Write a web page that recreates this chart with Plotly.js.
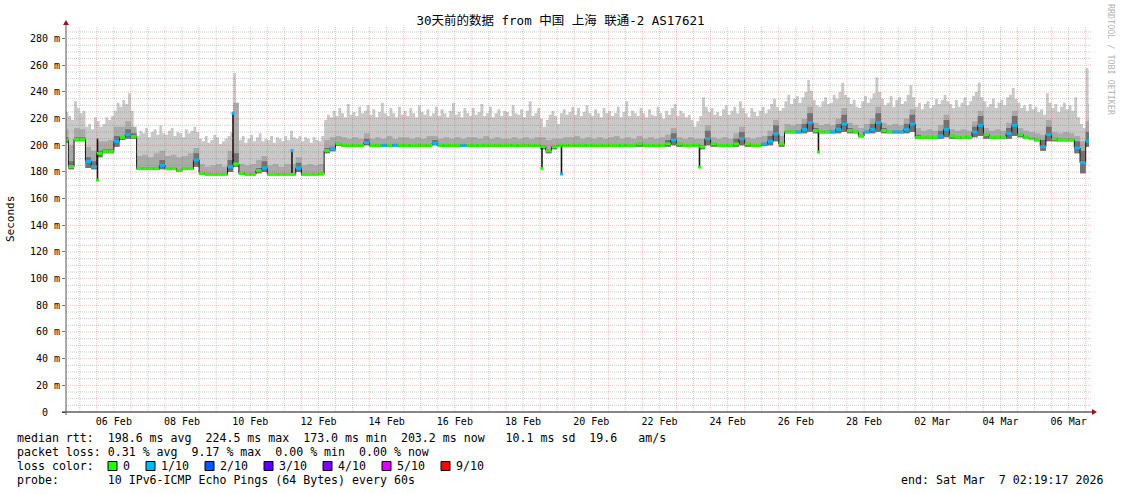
<!DOCTYPE html>
<html><head><meta charset="utf-8">
<script src="https://cdn.plot.ly/plotly-3.0.1.min.js"></script>
<style>html,body{margin:0;padding:0;background:#fff}</style>
</head><body><div id="chart" style="width:1121px;height:494px"></div>
<script>
// ---- sampling grid: median/inner smoke every 4 h, outer smoke every 2 h, from 2026-02-05 00:00 ----
const sampleStartUTC = Date.UTC(2026, 1, 5, 0, 0, 0);
const stepHours = 4;
const hiStepHours = 2;
const rangeStart = '2026-02-05 02:19:17';
const rangeEnd = '2026-03-07 02:19:17';

// median rtt (ms), 6 samples per day
const med = [
 204,184,204.5,204.5,188,184,  194,195.5,195.5,203,206,208,
 206.5,182.5,182.5,182.5,182.5,185,  182.5,182.5,181,182.5,182.5,189,
 179,178.2,178.2,178.2,178.2,184,  186,179,178.2,178.2,181,183,
 178.2,178.2,178.2,178.2,178.2,183,  178.2,178.2,178.2,178.7,196,197.5,
 201,200,200,200,200,202,  200,200,200,200,200,200,
 200,200,200,200,200,201.5,  200,200,200,200,200,200,
 200,200,200,200,200,200,  200,200,200,200,200,200,
 199,196,199,200,200,200,  200,200,200,200,200,200,
 200,200,200,200,200,201,  200,200,200,200,201,204,
 201,200,200,200,199,205,  201,200,200,200,201,205,
 201,200,200,201,203,208.5,  201,210,210,210,212,217,
 211,210,210,210,212,216,  211,210,207,210,212,217,
 211,210,210,210,212,216,  206,206,206,206,207,212,
 207,206,206,206,210,215,  208,206,206,206,209,215,
 208,206,205,204,199,208,  205,204,204,204,198,187,
 203,203];
// packet loss per sample, in tenths
const loss = [
 0,0,0,0,1,1, 0,0,0,1,0,1, 0,0,0,0,0,1, 0,0,0,0,0,1, 0,0,0,0,0,1,
 0,0,0,0,0,1, 0,0,0,0,0,1, 0,0,0,0,0,1, 0,0,0,0,0,1, 0,0,1,0,1,0,
 0,0,0,0,0,1, 0,0,0,0,1,0, 0,0,0,0,0,0, 0,0,0,0,0,0, 0,0,0,0,0,0,
 0,0,0,0,0,0, 0,0,0,0,0,0, 0,0,0,0,0,1, 0,0,0,0,0,1, 0,0,0,0,0,1,
 0,0,0,1,1,1, 0,0,0,1,1,1, 0,0,0,1,1,1, 0,0,0,1,1,1, 0,0,1,1,1,1,
 0,0,0,0,1,1, 0,0,0,0,1,1, 0,0,0,0,1,1, 0,0,0,0,1,1, 0,0,0,0,1,1,
 1,0];
// lowest ping
const lo = [
 202,182,203,203,183,182,  191,194,194,199,204,205,
 205,181.5,181.5,181.5,181.5,182,  181.5,181.5,180,181.5,181.5,184,
 178,177.5,177.5,177.5,177.5,180,  184,178,177.5,177.5,179,180,
 177.5,177.5,177.5,177.5,177.5,180,  177.5,177.5,177.5,177.5,194,195.5,
 199.5,199,199,199,199,200,  199,199,199,199,199,199,
 199,199,199,199,199,200,  199,199,199,199,199,199,
 199,199,199,199,199,199,  199,199,199,199,199,199,
 197,194,197,199,199,199,  199,199,199,199,199,199,
 199,199,199,199,199,199,  199,199,199,199,199,200,
 199,199,199,199,197,200,  199,199,199,199,199,200,
 199,199,199,199.5,200,203,  199,209,209,209,209,210,
 209,209,209,209,209,210,  209,209,206,209,209,210,
 209,209,209,209,209,210,  205,205,205,205,205,206,
 205,205,205,205,206,207,  205,205,205,205,205,207,
 206,205,204,203,196,203,  203,203,203,203,194,179,
 199,202];
// top of the dark (inner) smoke
const dk = [
 206,188,206,206,191,188,  196,197,197,207,207,212,
 209,183.5,183.5,183.5,183.5,189,  183.5,183.5,182,183.5,183.5,194,
 180,179,179,179,179,189,  194,180,179,179,183,188,
 179,179,179,179,179,187,  179,179,179,179.5,198,199,
 202,201,201,201,201,205,  201,201,201,201,201,201,
 201,201,201,201,201,204,  201,201,201,201,201,201,
 201,201,201,201,201,201,  201,201,201,201,201,201,
 200,197,200,201,201,201,  201,201,201,201,201,201,
 201,201,201,201,201,202,  201,201,201,201,204,209,
 202,201,201,201,200,211,  202,201,201,201,205,210,
 202,201,201,202,207,215,  202,211,211,211,216,224,
 213,211,211,211,216,223,  213,211,208,211,216,224,
 213,211,211,211,216,223,  208,207,207,207,211,219,
 208,207,207,207,214,222,  209,207,207,207,213,222,
 209,207,206,205,204,214,  206,205,205,205,203,196,
 210,204];
// top of the medium smoke
const mid = [
 212,200,213,212,199,196,  203,203,204,214,214,218,
 214,192,193,191,194,196,  192,193,191,192,194,198,
 186,184,185,186,184,196,  232,186,185,186,189,192,
 185,186,184,186,186,191,  185,186,185,186,204,206,
 207,206,205,206,205,209,  205,206,205,207,205,206,
 206,205,206,205,207,207,  205,206,205,206,205,206,
 206,205,207,205,206,205,  205,206,205,206,205,206,
 206,204,205,205,206,206,  207,205,206,205,206,205,
 206,207,205,206,205,207,  205,206,205,206,208,213,
 206,205,206,205,205,215,  206,205,206,205,209,214,
 206,205,206,207,211,219,  207,216,215,216,220,229,
 217,215,216,215,220,228,  217,215,213,216,220,229,
 217,215,216,215,220,227,  213,211,212,211,215,223,
 212,211,212,211,218,226,  213,211,212,211,217,226,
 213,211,210,209,208,219,  210,209,210,209,207,203,
 218,210];
// highest ping (outer smoke), 12 samples per day
const hi = [
 227,225,222,219,233,228,224,226,214,216,212,221,
 218,214,216,221,219,222,226,232,229,234,231,239,
 226,210,207,211,209,213,206,210,212,208,215,209,
 208,211,213,207,210,209,206,212,209,211,214,210,
 205,203,207,202,204,208,206,201,203,205,207,210,
 254,212,204,207,202,205,208,203,206,209,203,205,
 204,207,202,206,205,203,207,204,211,206,205,207,
 203,206,205,202,206,204,203,207,219,223,221,226,
 222,228,224,221,231,223,225,222,229,224,226,230,
 223,227,221,225,232,224,222,228,224,221,229,223,
 226,222,228,224,221,230,225,223,227,222,224,229,
 222,227,224,221,226,232,223,225,221,228,224,222,
 228,223,225,231,222,224,229,221,224,227,222,226,
 225,222,230,224,223,227,221,226,233,222,224,228,
 220,214,219,223,226,222,216,224,227,223,225,229,
 223,228,222,225,230,224,222,227,224,221,228,224,
 226,222,224,229,221,225,233,222,226,224,222,228,
 224,221,227,223,222,229,224,220,226,223,228,231,
 222,226,224,221,223,219,214,218,222,236,229,225,
 228,223,225,222,227,230,223,226,229,224,233,228,
 224,221,228,225,222,226,229,224,227,231,235,229,
 226,228,233,238,231,235,237,232,236,240,249,241,
 234,230,229,233,236,231,232,238,235,240,247,238,
 236,231,234,229,228,233,237,232,235,239,251,240,
 235,230,232,237,229,234,236,231,233,238,245,236,
 229,232,227,231,233,228,230,235,231,234,238,233,
 231,228,234,229,232,236,230,233,237,240,247,236,
 233,229,231,235,228,232,234,230,236,238,243,235,
 232,228,230,226,231,227,229,225,227,223,239,232,
 228,231,225,229,232,227,230,226,236,221,216,213,
 258,231,230];

// short spikes of the median (narrower than one sample)
const spikeTime = ['2026-02-06 00:29','2026-02-09 23:51','2026-02-11 17:23','2026-02-19 01:20','2026-02-19 15:03','2026-02-23 16:11','2026-02-27 03:55'];
const spikeFrom = [205, 186, 178.2, 200, 200, 200, 210];
const spikeTo   = [174, 224, 196, 182.5, 178.5, 183.7, 195];
const spikeLoss = [0, 1, 1, 0, 1, 0, 0];

// loss colour legend
const lossLegendValues = [0, 1, 2, 3, 4, 5, 9];
const lossLegendLabels = ['0', '1/10', '2/10', '3/10', '4/10', '5/10', '9/10'];
const lossLegendColors = ['#26ff00', '#00b8ff', '#0059ff', '#5e00ff', '#7e00ff', '#dd00ff', '#ff0000'];

const yTickVals = [0,20,40,60,80,100,120,140,160,180,200,220,240,260,280];
const yTickText = ['0\u00a0\u00a0','20 m','40 m','60 m','80 m','100 m','120 m','140 m','160 m','180 m','200 m','220 m','240 m','260 m','280 m'];

const titleText = '30天前的数据 from 中国 上海 联通-2 AS17621';
const statLines = [
  'median rtt:  198.6 ms avg  224.5 ms max  173.0 ms min  203.2 ms now   10.1 ms sd  19.6   am/s',
  'packet loss: 0.31 % avg  9.17 % max  0.00 % min  0.00 % now',
  'loss color:',
  'probe:       10 IPv6-ICMP Echo Pings (64 Bytes) every 60s'
];
const endText = 'end: Sat Mar  7 02:19:17 2026';
const yTitle = 'Seconds';
const watermark = 'RRDTOOL / TOBI OETIKER';

// ---------------------------------------------------------------
const fmt = ms => new Date(ms).toISOString().slice(0, 19).replace('T', ' ');
const times = med.map((_, i) => fmt(sampleStartUTC + i * stepHours * 3600e3));
const hiTimes = hi.map((_, i) => fmt(sampleStartUTC + i * hiStepHours * 3600e3));
const colorOf = L => lossLegendColors[lossLegendValues.indexOf(L)];
const nb = s => s.replace(/ /g, '\u00a0');

const W = 1121, H = 494, L0 = 66, R0 = 1089, T0 = 26, B0 = 412;
const px = x => (x - L0) / (R0 - L0);
const py = y => (B0 - y) / (B0 - T0);

const stepLine = {shape: 'hv', width: 0};
const traces = [];
function band(tx, top, color) {
  traces.push({x: times, y: lo, mode: 'lines', line: stepLine, hoverinfo: 'skip', showlegend: false});
  traces.push({x: tx, y: top, mode: 'lines', line: stepLine, fill: 'tonexty', fillcolor: color, hoverinfo: 'skip', showlegend: false});
}
band(hiTimes, hi, '#c9c9c9');
band(times, mid, '#aaaaaa');
band(times, dk, '#727272');

// dark median line (shows at vertical transitions)
traces.push({x: times, y: med, mode: 'lines', line: {shape: 'hv', width: 1, color: '#151515'}, showlegend: false});
// spikes
const sx = [], sy = [];
spikeTime.forEach((t, k) => { sx.push(t, t, null); sy.push(spikeFrom[k], spikeTo[k], null); });
traces.push({x: sx, y: sy, mode: 'lines', line: {width: 1.6, color: '#151515'}, showlegend: false});

// coloured median segments by loss
const segs = {};
for (let i = 0; i < med.length - 1; i++) {
  const Lv = loss[i];
  if (!segs[Lv]) segs[Lv] = {x: [], y: []};
  segs[Lv].x.push(times[i], times[i + 1], null);
  segs[Lv].y.push(med[i], med[i], null);
}
Object.keys(segs).forEach(k => {
  traces.push({x: segs[k].x, y: segs[k].y, mode: 'lines', line: {width: 3, color: colorOf(+k)}, showlegend: false});
});
// spike tips
traces.push({x: spikeTime, y: spikeTo, mode: 'markers',
  marker: {symbol: 'square', size: 3, color: spikeLoss.map(colorOf), line: {width: 0}}, showlegend: false});

// ---- grid drawn above the smoke (like rrdtool) ----
const shapes = [];
const dayMs = 86400e3;
for (let t = Date.UTC(2026, 1, 5, 12); t <= Date.UTC(2026, 2, 7, 0); t += dayMs / 2) {
  const major = new Date(t).getUTCHours() === 0;
  shapes.push({type: 'line', layer: 'above', xref: 'x', yref: 'paper', x0: fmt(t), x1: fmt(t), y0: 0, y1: 1,
    line: {width: 1, dash: '1px,1px', color: major ? 'rgba(255,0,0,0.27)' : 'rgba(128,128,128,0.42)'}});
}
for (let v = 5; v <= 285; v += 5) {
  const major = v % 20 === 0;
  shapes.push({type: 'line', layer: 'above', xref: 'paper', yref: 'y', x0: 0, x1: px(1092), y0: v, y1: v,
    line: {width: 1, dash: '1px,1px', color: major ? 'rgba(255,0,0,0.27)' : 'rgba(128,128,128,0.42)'}});
}
// axis lines and arrows
shapes.push({type: 'line', xref: 'paper', yref: 'paper', layer: 'above', x0: px(62), x1: px(1093), y0: 0, y1: 0, line: {width: 1, color: '#111'}});
shapes.push({type: 'path', xref: 'paper', yref: 'paper', layer: 'above',
  path: `M ${px(1092)} ${py(409)} L ${px(1097)} ${py(412)} L ${px(1092)} ${py(415)} Z`, fillcolor: '#8b1a1a', line: {width: 0}});
shapes.push({type: 'line', xref: 'paper', yref: 'paper', layer: 'above', x0: 0, x1: 0, y0: py(415), y1: py(23), line: {width: 1, color: '#555'}});
shapes.push({type: 'path', xref: 'paper', yref: 'paper', layer: 'above',
  path: `M ${px(63)} ${py(25)} L ${px(66)} ${py(20)} L ${px(69)} ${py(25)} Z`, fillcolor: '#8b1a1a', line: {width: 0}});

// loss colour boxes: each legend entry is as wide as its label plus the box
const boxX = [];
lossLegendLabels.reduce((x, s) => { boxX.push(x); return x + 7 * s.length + 31; }, 108);
lossLegendColors.forEach((c, k) => {
  shapes.push({type: 'rect', xref: 'paper', yref: 'paper', x0: px(boxX[k]), x1: px(boxX[k] + 9), y0: py(461.5), y1: py(470.5),
    fillcolor: c, line: {width: 1, color: '#000'}});
});

const mono = 'DejaVu Sans Mono, monospace';
const annotations = [];
const rowY = [438, 452, 466, 480];
statLines.forEach((s, k) => annotations.push({xref: 'paper', yref: 'paper', x: px(16), y: py(rowY[k]),
  xanchor: 'left', yanchor: 'middle', showarrow: false, borderpad: 0, text: nb(s), font: {family: mono, size: 11.6, color: '#000'}}));
lossLegendLabels.forEach((s, k) => annotations.push({xref: 'paper', yref: 'paper', x: px(boxX[k] + 14), y: py(466),
  xanchor: 'left', yanchor: 'middle', showarrow: false, borderpad: 0, text: nb(s), font: {family: mono, size: 11.6, color: '#000'}}));
annotations.push({xref: 'paper', yref: 'paper', x: px(1104), y: py(480), xanchor: 'right', yanchor: 'middle',
  showarrow: false, borderpad: 0, text: nb(endText), font: {family: mono, size: 11.6, color: '#000'}});
annotations.push({xref: 'paper', yref: 'paper', x: px(10), y: py(219), xanchor: 'center', yanchor: 'middle', textangle: -90,
  showarrow: false, borderpad: 0, text: yTitle, font: {family: mono, size: 11, color: '#000'}});
annotations.push({xref: 'paper', yref: 'paper', x: px(1111), y: py(60), xanchor: 'center', yanchor: 'middle', textangle: 90,
  showarrow: false, borderpad: 0, text: nb(watermark), font: {family: mono, size: 8.4, color: '#b4b4b4'}});

const layout = {
  width: W, height: H, autosize: false,
  margin: {l: L0, r: W - R0, t: T0, b: H - B0, pad: 0},
  paper_bgcolor: '#fff', plot_bgcolor: '#fff',
  showlegend: false,
  title: {text: titleText, x: 0.5, xref: 'container', xanchor: 'center', y: 1 - 21 / H, yref: 'container', yanchor: 'middle',
    font: {family: 'DejaVu Sans Mono, Noto Sans CJK SC', size: 12.5, color: '#000'}},
  xaxis: {type: 'date', range: [rangeStart, rangeEnd], showgrid: false, zeroline: false,
    tickmode: 'linear', tick0: '2026-02-06 12:00', dtick: 2 * dayMs, tickformat: '%d %b',
    ticks: '', showline: false, fixedrange: true, ticklabelstandoff: 2,
    tickfont: {family: mono, size: 10, color: '#000'}},
  yaxis: {range: [0, (B0 - T0) / 1.3335], showgrid: false, zeroline: false, tickmode: 'array',
    tickvals: yTickVals, ticktext: yTickText, ticks: 'outside', ticklen: 3, tickcolor: '#777',
    showline: false, fixedrange: true, tickfont: {family: mono, size: 10, color: '#000'}},
  shapes: shapes,
  annotations: annotations
};

Plotly.newPlot('chart', traces, layout, {staticPlot: true, displayModeBar: false});
</script>
</body></html>
